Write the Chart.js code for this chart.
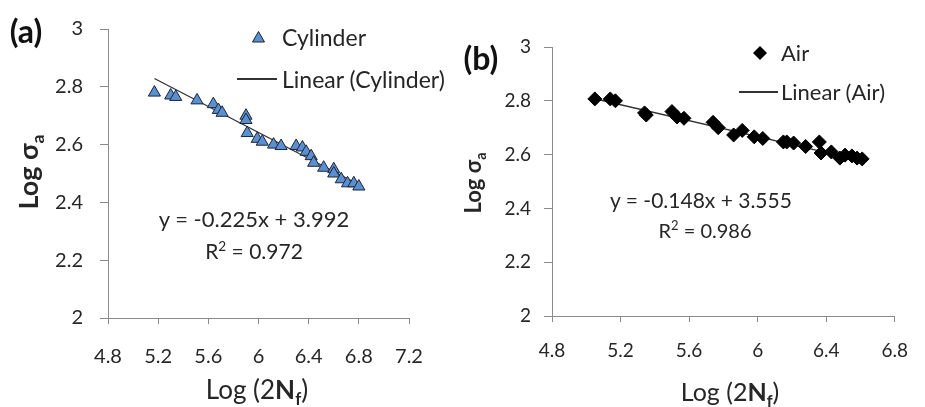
<!DOCTYPE html>
<html lang="en">
<head>
<meta charset="UTF-8">
<title>Log stress vs Log life</title>
<script src="https://cdn.jsdelivr.net/npm/chart.js@4.4.1/dist/chart.umd.min.js"></script>
<style>
    body { margin: 0; background: #fff; font-family: Lato, "Open Sans", sans-serif; color: #262626; }
    .wrap { position: relative; width: 925px; height: 407px; overflow: hidden; }
    canvas { position: absolute; top: 0; }
    .t { position: absolute; white-space: nowrap; transform: translate(-50%, -50%); line-height: 1; }
    .l { position: absolute; white-space: nowrap; transform: translateY(-50%); line-height: 1; }
    .panel { font-weight: bold; font-size: 32px; color: #111; }
    .yt { font-weight: bold; transform: translate(-50%, -50%) rotate(-90deg); }
    .ln { position: absolute; height: 1.5px; background: #333; }
    sub, sup { font-size: 65%; line-height: 0; }
</style>
</head>
<body>
<div class="wrap">
    <canvas id="chartA" width="460" height="407" style="left:0"></canvas>
    <canvas id="chartB" width="465" height="407" style="left:460px"></canvas>

    <div class="t panel" style="left:26px; top:31px">(a)</div>
    <div class="t panel" style="left:481px; top:58px">(b)</div>

    <div class="t yt" style="left:27px; top:172px; font-size:27px">Log σ<sub>a</sub></div>
    <div class="t yt" style="left:473px; top:183px; font-size:22px">Log σ<sub>a</sub></div>

    <div class="t" style="left:257px; top:389px; font-size:26px">Log (2<b>N</b><sub><b>f</b></sub>)</div>
    <div class="t" style="left:730px; top:391px; font-size:25px">Log (2<b>N</b><sub><b>f</b></sub>)</div>

    <div class="t" style="left:254px; top:219px; font-size:22px">y = -0.225x + 3.992</div>
    <div class="t" style="left:254px; top:250px; font-size:21px">R<sup>2</sup> = 0.972</div>
    <div class="t" style="left:701px; top:199px; font-size:21px">y = -0.148x + 3.555</div>
    <div class="t" style="left:705px; top:230px; font-size:20px">R<sup>2</sup> = 0.986</div>

    <svg style="position:absolute; left:252px; top:31px" width="13" height="12">
        <polygon points="6.5,0.5 12.5,11 0.5,11" fill="#5b8fd1" stroke="#1a2535" stroke-width="1"/>
    </svg>
    <div class="l" style="left:282px; top:37px; font-size:23px">Cylinder</div>
    <div class="ln" style="left:237px; top:78px; width:40px"></div>
    <div class="l" style="left:282px; top:79px; font-size:23px">Linear (Cylinder)</div>

    <svg style="position:absolute; left:753px; top:46px" width="14" height="14">
        <polygon points="7,0 14,7 7,14 0,7" fill="#000"/>
    </svg>
    <div class="l" style="left:781px; top:53px; font-size:22px">Air</div>
    <div class="ln" style="left:739px; top:91px; width:39px"></div>
    <div class="l" style="left:781px; top:92px; font-size:22px">Linear (Air)</div>
</div>
<script>
    // (a) cylinder specimens
    const cylX = [5.17, 5.30, 5.34, 5.51, 5.64, 5.68, 5.71, 5.90, 5.90, 5.91, 5.99, 6.03, 6.12, 6.18,
                  6.30, 6.35, 6.38, 6.42, 6.44, 6.52, 6.60, 6.60, 6.66, 6.71, 6.76, 6.80];
    const cylY = [2.780, 2.770, 2.765, 2.753, 2.740, 2.720, 2.710, 2.700, 2.685, 2.640, 2.620, 2.610, 2.600, 2.595,
                  2.595, 2.590, 2.575, 2.560, 2.537, 2.520, 2.515, 2.500, 2.480, 2.466, 2.466, 2.455];
    const cylSlope = -0.225, cylIntercept = 3.992;

    // (b) air
    const airX = [5.05, 5.14, 5.17, 5.34, 5.35, 5.50, 5.53, 5.57, 5.74, 5.77, 5.86, 5.91, 5.98,
                  6.03, 6.15, 6.17, 6.21, 6.28, 6.36, 6.37, 6.43, 6.48, 6.51, 6.55, 6.58, 6.61];
    const airY = [2.807, 2.807, 2.800, 2.755, 2.747, 2.760, 2.740, 2.735, 2.720, 2.700, 2.673, 2.690, 2.666,
                  2.660, 2.647, 2.647, 2.643, 2.630, 2.647, 2.606, 2.610, 2.587, 2.598, 2.595, 2.587, 2.584];
    const airSlope = -0.148, airIntercept = 3.555;

    const xTicksA = [4.8, 5.2, 5.6, 6, 6.4, 6.8, 7.2];
    const xTicksB = [4.8, 5.2, 5.6, 6, 6.4, 6.8];
    const yTicks = [2, 2.2, 2.4, 2.6, 2.8, 3];

    Chart.defaults.font.family = 'Lato, "Open Sans", sans-serif';
    Chart.defaults.color = '#262626';

    function pts(xs, ys) {
        return xs.map((x, i) => ({ x: x, y: ys[i] }));
    }

    // trendline drawn across the data range from the fitted equation
    function fitLine(xs, m, b) {
        const lo = Math.min(...xs), hi = Math.max(...xs);
        return [{ x: lo, y: m * lo + b }, { x: hi, y: m * hi + b }];
    }

    function makeChart(id, o) {
        new Chart(document.getElementById(id), {
            type: 'scatter',
            data: {
                datasets: [
                    {
                        data: pts(o.xs, o.ys),
                        pointStyle: o.style,
                        pointRadius: o.radius,
                        backgroundColor: o.fill,
                        borderColor: o.stroke,
                        borderWidth: 1
                    },
                    {
                        data: fitLine(o.xs, o.m, o.b),
                        showLine: true,
                        pointRadius: 0,
                        borderColor: '#333',
                        borderWidth: 1.3
                    }
                ]
            },
            options: {
                responsive: false,
                animation: false,
                devicePixelRatio: 1,
                layout: { padding: o.pad },
                plugins: { legend: { display: false }, tooltip: { enabled: false } },
                scales: {
                    x: {
                        min: o.xTicks[0],
                        max: o.xTicks[o.xTicks.length - 1],
                        afterBuildTicks: s => { s.ticks = o.xTicks.map(v => ({ value: v })); },
                        afterFit: s => { s.height = o.xh; },
                        grid: { drawOnChartArea: false, color: '#8a8a8a', tickLength: 6 },
                        border: { color: '#8a8a8a' },
                        ticks: { padding: o.xpad, font: { size: o.fs }, color: '#262626', callback: v => v }
                    },
                    y: {
                        min: 2,
                        max: 3,
                        afterBuildTicks: s => { s.ticks = yTicks.map(v => ({ value: v })); },
                        afterFit: s => { s.width = o.yw; },
                        grid: { drawOnChartArea: false, color: '#8a8a8a', tickLength: 8 },
                        border: { color: '#8a8a8a' },
                        ticks: { padding: o.ypad, font: { size: o.fs }, color: '#262626', callback: v => v }
                    }
                }
            }
        });
    }

    makeChart('chartA', {
        xs: cylX, ys: cylY, m: cylSlope, b: cylIntercept,
        style: 'triangle', radius: 7, fill: '#5b8fd1', stroke: '#1a2535',
        xTicks: xTicksA, pad: { left: 0, top: 22, right: 51, bottom: 0 },
        xh: 89, yw: 108, xpad: 21, ypad: 17, fs: 20
    });

    makeChart('chartB', {
        xs: airX, ys: airY, m: airSlope, b: airIntercept,
        style: 'rectRot', radius: 7, fill: '#000', stroke: '#000',
        xTicks: xTicksB, pad: { left: 0, top: 47, right: 15, bottom: 0 },
        xh: 91, yw: 92, xpad: 17, ypad: 13, fs: 19
    });
</script>
</body>
</html>
